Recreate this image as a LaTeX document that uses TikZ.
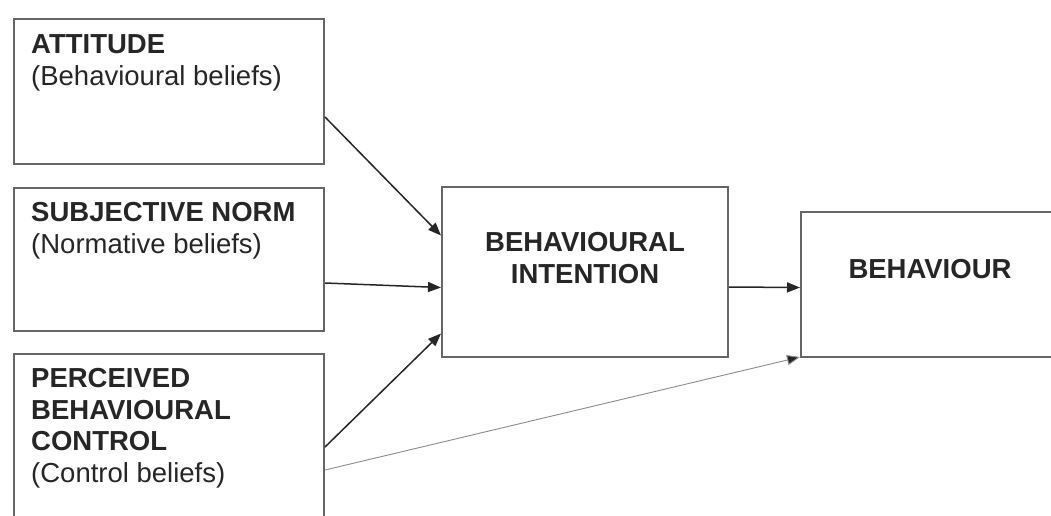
\documentclass[tikz,border=0pt]{standalone}
\usepackage{fontspec}
\setmainfont{Liberation Sans}
\usetikzlibrary{arrows.meta}
\begin{document}
\begin{tikzpicture}[x=1pt,y=-1pt,
  box/.style={draw=black!60, line width=2pt, fill=white, minimum width=#1, inner sep=0pt, anchor=north west},
  lbl/.style={inner sep=0pt, anchor=base west, align=left, text=black!85, font=\fontsize{27.5}{31.5}\selectfont},
  clbl/.style={inner sep=0pt, anchor=base, align=center, text=black!85, font=\fontsize{27.5}{31.5}\selectfont\bfseries},
  arr/.style={draw=black!85, line width=1.5pt, -{Triangle[length=13pt,width=10pt]}},
  thin/.style={draw=black!45, line width=0.9pt, -{Triangle[length=13pt,width=10pt,fill=black!85]}}]
\useasboundingbox[fill=white] (0,0) rectangle (1051,515);
\node[box=310pt, minimum height=145pt] (A) at (13,18) {};
\node[box=310pt, minimum height=143pt] (S) at (13,187) {};
\node[box=310pt, minimum height=190pt] (P) at (13,353) {};
\node[box=286pt, minimum height=170pt] (BI) at (441,186) {};
\node[box=300pt, minimum height=145pt] (B) at (800,211) {};
\node[lbl] (tA) at (31,85) {\textbf{ATTITUDE}\\(Behavioural beliefs)};
\node[lbl] (tS) at (31,253) {\textbf{SUBJECTIVE NORM}\\(Normative beliefs)};
\node[lbl] (tP) at (31,482) {\textbf{PERCEIVED}\\\textbf{BEHAVIOURAL}\\\textbf{CONTROL}\\(Control beliefs)};
\node[clbl] (tBI) at (585,283) {BEHAVIOURAL\\INTENTION};
\node[clbl] (tB) at (930,278) {BEHAVIOUR};
\draw[arr] ([yshift=-25.5pt]A.east) -- ([yshift=36.5pt]BI.west);
\draw[arr] ([yshift=-23.5pt]S.east) -- ([yshift=-15.5pt]BI.west);
\draw[arr] ([yshift=-94pt]P.north east) -- ([yshift=-61.5pt]BI.west);
\draw[arr] ([yshift=-15pt]BI.east) -- ([yshift=-3pt]B.west);
\draw[thin] ([yshift=-117pt]P.north east) -- ([yshift=1pt]B.south west);
\end{tikzpicture}
\end{document}
